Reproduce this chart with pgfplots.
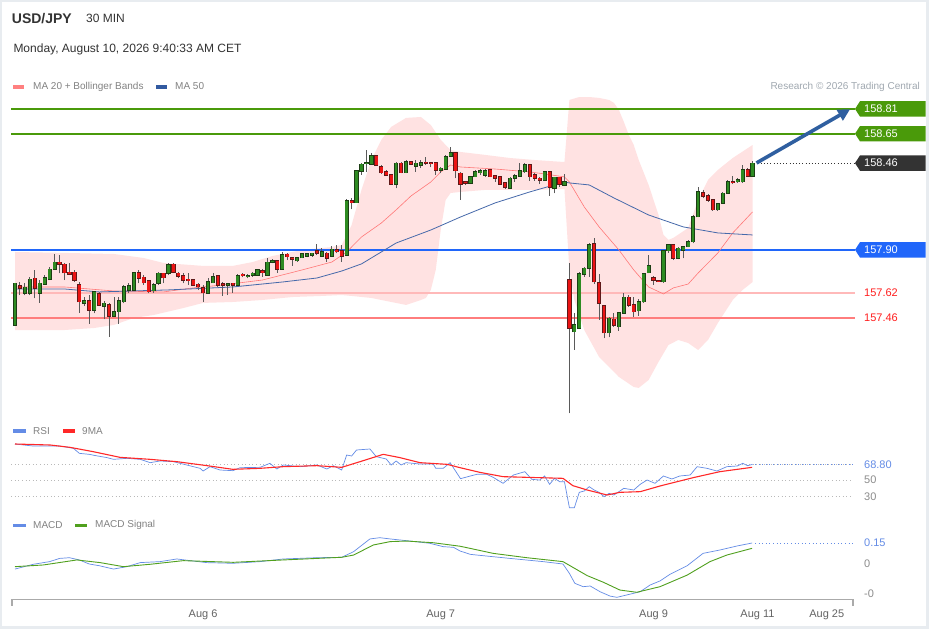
\documentclass[border=0pt]{standalone}
\usepackage{pgfplots}
\pgfplotsset{compat=1.18}
\usepackage{pgfplotstable}
\usetikzlibrary{arrows.meta}
\usepackage{fontspec}
\setmainfont{Liberation Sans}

\definecolor{framegray}{RGB}{232,236,240}
\definecolor{bandpink}{RGB}{255,226,226}
\definecolor{maline}{RGB}{255,120,120}
\definecolor{mafifty}{RGB}{70,105,170}
\definecolor{upfill}{RGB}{46,139,34}
\definecolor{upedge}{RGB}{28,62,20}
\definecolor{dnfill}{RGB}{235,20,20}
\definecolor{dnedge}{RGB}{95,25,25}
\definecolor{wick}{RGB}{90,90,90}
\definecolor{levgreen}{RGB}{74,154,10}
\definecolor{supportblue}{RGB}{32,102,250}
\definecolor{supportpink}{RGB}{255,185,185}
\definecolor{supportred}{RGB}{255,125,125}
\definecolor{levredtext}{RGB}{255,30,30}
\definecolor{darkbox}{RGB}{51,51,51}
\definecolor{arrowblue}{RGB}{47,95,160}
\definecolor{rsiblue}{RGB}{100,140,230}
\definecolor{mared}{RGB}{255,40,40}
\definecolor{siggreen}{RGB}{80,160,30}
\definecolor{dotgray}{RGB}{185,185,185}
\definecolor{axisgray}{RGB}{170,170,170}
\definecolor{ticktext}{RGB}{100,100,100}
\definecolor{sidetext}{RGB}{140,140,140}
\definecolor{legtext}{RGB}{130,130,130}
\definecolor{titletext}{RGB}{51,51,51}
\definecolor{swpink}{RGB}{255,128,128}
\definecolor{swblue}{RGB}{50,90,160}
\definecolor{credit}{RGB}{160,168,176}

\pgfplotstableread{
i o h l c
0 157.414 157.688 157.410 157.684
1 157.666 157.694 157.608 157.651
2 157.619 157.684 157.606 157.658
3 157.619 157.727 157.608 157.709
4 157.716 157.770 157.587 157.651
5 157.619 157.705 157.559 157.684
6 157.677 157.737 157.673 157.720
7 157.709 157.791 157.705 157.774
8 157.774 157.873 157.770 157.819
9 157.819 157.867 157.748 157.806
10 157.806 157.813 157.705 157.752
11 157.755 157.813 157.737 157.744
12 157.755 157.770 157.694 157.705
13 157.673 157.694 157.494 157.565
14 157.554 157.598 157.537 157.569
15 157.572 157.608 157.421 157.511
16 157.511 157.636 157.490 157.630
17 157.615 157.630 157.537 157.544
18 157.537 157.569 157.451 157.554
19 157.544 157.559 157.339 157.473
20 157.473 157.598 157.468 157.501
21 157.501 157.598 157.421 157.569
22 157.565 157.673 157.554 157.662
23 157.640 157.684 157.619 157.666
24 157.640 157.759 157.636 157.752
25 157.752 157.770 157.684 157.716
26 157.722 157.737 157.673 157.688
27 157.701 157.705 157.619 157.630
28 157.636 157.684 157.623 157.673
29 157.684 157.759 157.673 157.748
30 157.748 157.752 157.684 157.720
31 157.748 157.813 157.737 157.802
32 157.806 157.813 157.748 157.755
33 157.748 157.759 157.716 157.731
34 157.733 157.748 157.684 157.705
35 157.709 157.752 157.673 157.701
36 157.705 157.709 157.666 157.673
37 157.677 157.684 157.640 157.662
38 157.655 157.673 157.565 157.623
39 157.619 157.716 157.615 157.694
40 157.688 157.752 157.684 157.727
41 157.731 157.737 157.662 157.673
42 157.679 157.694 157.602 157.673
43 157.673 157.684 157.608 157.679
44 157.684 157.688 157.623 157.673
45 157.673 157.744 157.666 157.733
46 157.742 157.748 157.722 157.733
47 157.727 157.742 157.716 157.731
48 157.737 157.759 157.727 157.748
49 157.737 157.774 157.731 157.770
50 157.765 157.774 157.727 157.752
51 157.737 157.845 157.731 157.819
52 157.819 157.839 157.813 157.830
53 157.828 157.834 157.752 157.774
54 157.774 157.888 157.770 157.867
55 157.871 157.882 157.834 157.856
56 157.849 157.856 157.796 157.839
57 157.830 157.856 157.824 157.849
58 157.849 157.877 157.845 157.873
59 157.860 157.877 157.852 157.873
60 157.867 157.882 157.856 157.877
61 157.892 157.938 157.867 157.877
62 157.860 157.910 157.856 157.888
63 157.877 157.888 157.824 157.845
64 157.860 157.925 157.856 157.903
65 157.899 157.931 157.877 157.888
66 157.895 157.931 157.824 157.860
67 157.867 158.226 157.860 158.218
68 158.218 158.233 158.162 158.205
69 158.205 158.416 158.201 158.409
70 158.409 158.459 158.384 158.452
71 158.457 158.545 158.405 158.463
72 158.455 158.528 158.448 158.506
73 158.506 158.513 158.442 158.448
74 158.437 158.448 158.390 158.399
75 158.405 158.416 158.377 158.384
76 158.384 158.390 158.319 158.325
77 158.325 158.470 158.297 158.459
78 158.459 158.470 158.394 158.399
79 158.399 158.480 158.394 158.470
80 158.470 158.476 158.448 158.455
81 158.442 158.480 158.405 158.459
82 158.448 158.480 158.427 158.463
83 158.465 158.502 158.448 158.459
84 158.463 158.470 158.433 158.459
85 158.463 158.470 158.384 158.416
86 158.416 158.437 158.394 158.427
87 158.420 158.513 158.416 158.502
88 158.506 158.562 158.502 158.528
89 158.528 158.534 158.362 158.412
90 158.394 158.405 158.222 158.325
91 158.340 158.347 158.319 158.330
92 158.330 158.377 158.325 158.373
93 158.373 158.416 158.369 158.405
94 158.399 158.420 158.384 158.412
95 158.384 158.420 158.373 158.409
96 158.416 158.420 158.369 158.373
97 158.377 158.384 158.340 158.362
98 158.373 158.377 158.319 158.325
99 158.334 158.340 158.293 158.304
100 158.297 158.369 158.293 158.362
101 158.362 158.390 158.340 158.377
102 158.377 158.463 158.373 158.412
103 158.405 158.463 158.399 158.448
104 158.448 158.455 158.347 158.373
105 158.384 158.394 158.347 158.362
106 158.362 158.373 158.325 158.351
107 158.351 158.412 158.347 158.405
108 158.405 158.412 158.248 158.304
109 158.297 158.373 158.265 158.369
110 158.369 158.373 158.308 158.325
111 158.319 158.390 158.312 158.340
112 157.705 157.813 156.844 157.393
113 157.372 157.490 157.253 157.415
114 157.393 157.759 157.387 157.744
115 157.744 157.791 157.727 157.781
116 157.781 157.942 157.727 157.931
117 157.938 157.974 157.679 157.694
118 157.688 157.744 157.447 157.555
119 157.537 157.544 157.328 157.365
120 157.365 157.469 157.335 157.458
121 157.451 157.494 157.404 157.415
122 157.404 157.501 157.378 157.494
123 157.490 157.623 157.486 157.593
124 157.593 157.608 157.533 157.544
125 157.544 157.598 157.469 157.501
126 157.507 157.580 157.473 157.565
127 157.565 157.753 157.559 157.744
128 157.753 157.867 157.748 157.796
129 157.720 157.731 157.673 157.705
130 157.701 157.705 157.692 157.696
131 157.694 157.899 157.688 157.895
132 157.895 157.938 157.882 157.931
133 157.931 157.938 157.834 157.845
134 157.845 157.916 157.839 157.910
135 157.899 157.925 157.845 157.921
136 157.921 157.964 157.916 157.953
137 157.953 158.125 157.942 158.114
138 158.114 158.308 158.110 158.276
139 158.269 158.287 158.233 158.248
140 158.248 158.261 158.211 158.222
141 158.222 158.226 158.153 158.158
142 158.158 158.205 158.153 158.196
143 158.201 158.276 158.196 158.265
144 158.265 158.351 158.261 158.340
145 158.340 158.377 158.325 158.334
146 158.340 158.362 158.334 158.351
147 158.340 158.448 158.334 158.416
148 158.416 158.427 158.369 158.377
149 158.377 158.476 158.373 158.459
}\candles

\pgfplotstableread{
i v
0 157.660
10 157.660
20 157.634
30 157.628
36 157.654
42 157.673
50 157.705
58 157.770
64 157.821
67 157.886
70 157.983
74 158.073
77 158.158
80 158.248
84 158.338
86 158.403
88 158.448
90 158.435
97 158.422
104 158.403
107 158.390
111 158.371
112 158.338
115 158.177
118 158.048
122 157.899
125 157.770
128 157.660
131 157.615
133 157.654
136 157.679
138 157.750
142 157.880
145 158.009
149 158.145
}\maTwenty

\pgfplotstableread{
i v
0 157.647
10 157.647
17 157.628
31 157.641
44 157.660
54 157.692
61 157.718
66 157.763
70 157.809
77 157.944
84 158.028
90 158.112
97 158.203
104 158.274
111 158.338
112 158.332
116 158.319
121 158.235
128 158.125
135 158.048
142 158.009
149 157.996
}\maFifty

% Bollinger band outline: upper band left to right, then lower band right to left
\pgfplotstableread{
i v
0 157.886
10 157.880
20 157.873
26 157.847
30 157.815
38 157.796
44 157.796
48 157.821
52 157.860
58 157.899
64 157.918
66 157.931
68 158.060
70 158.287
72 158.480
74 158.610
76 158.694
79 158.752
82 158.758
84 158.706
86 158.610
88 158.545
90 158.532
95 158.513
100 158.493
105 158.480
111 158.467
112 158.868
114 158.887
116 158.887
118 158.881
120 158.868
121 158.849
122 158.803
123 158.726
124 158.642
125 158.577
126 158.480
128 158.319
130 158.125
131 157.996
132 157.964
133 157.977
136 158.041
138 158.222
140 158.351
142 158.416
145 158.493
149 158.577
149 157.692
147 157.641
145 157.576
142 157.428
140 157.318
138 157.253
136 157.298
134 157.318
132 157.285
130 157.176
128 157.059
126 157.008
125 157.014
122 157.079
118 157.208
115 157.382
113 157.576
112 157.770
111 158.293
105 158.287
100 158.287
95 158.287
90 158.274
88 158.267
87 158.222
86 158.028
85 157.770
84 157.641
83 157.589
82 157.576
79 157.544
76 157.563
72 157.589
68 157.602
66 157.608
62 157.602
56 157.595
50 157.576
44 157.563
38 157.557
34 157.524
28 157.479
24 157.460
20 157.415
16 157.395
10 157.382
0 157.382
}\band

\pgfplotstableread{
i v
0 93.2
3.6 90.8
9 90.8
11.8 88
13 82
15 80.8
16.5 79
18.5 77
19.9 74.8
22.6 76
25.3 74.8
27.3 70.8
29.3 72.8
32 72
34.7 68
37.4 64
38 60.8
39.4 66
41.4 62
44 61.2
45.5 64.8
49.5 65.2
51.5 70
52.9 63.2
54.2 68
57.6 66
61 68
63 63.2
64.3 67.2
66 62
67 80
68 78.8
69 86
71.7 87.2
73 78
75 75.2
76 68
77 72.8
78 68
79 70.8
81.8 69.2
84.5 69.2
85 64
86.5 64
87.9 70.8
90 51.6
92 54.8
93.3 56.8
95.3 56.8
96.6 53.2
98.6 46
100.7 56
103 60
104.4 50.8
106 50
107 54.8
108 44.8
109 52
110 48
111 48
112 16.8
113 16.8
114 35.2
115 36.8
116 42
117 38
118 35.2
119 30
120 34
121 32
123 40
125 38
126.3 44.8
127.7 50
129.3 46
131 54.8
132.7 51.2
134.3 54.8
136.4 56
137.8 66
139.8 64
141.8 60.8
143.8 66
145.9 66.8
147 70
148 67.2
149 68.8
}\rsi

\pgfplotstableread{
i v
0 93.2
7.1 92
11.1 89.2
15.8 84
21.2 77.2
27.3 74.8
32.7 72
38.8 67.2
44 62.8
49.5 64
54.2 66
61 67.2
66 65.2
69.7 72
74.4 80.8
77.8 76.8
81.8 70.8
87.3 68.8
89.9 64.8
91.9 62
93.9 59.2
98.6 54
103.4 53.2
110.7 52
112.7 43.2
115.6 38
119.6 32
122.2 35.2
126.3 36
130.3 42.8
137 52.8
142.4 60
148.9 65.2
}\rsima

\pgfplotstableread{
i v
0 -0.036
3.7 -0.002
7 0.017
9 0.040
11 0.045
13 0.029
15 0.000
17 -0.012
19.9 -0.036
22.6 -0.019
25.3 0.010
29.3 0.017
32.7 0.036
35.4 0.024
38.7 0.010
44 0.005
49.5 0.017
54.2 0.036
61 0.045
66 0.048
68.4 0.088
69.7 0.124
71.7 0.179
73.7 0.188
75.8 0.179
79.8 0.164
83.8 0.148
86.5 0.124
88.6 0.119
89.9 0.093
92 0.069
93.3 0.064
100 0.040
106.7 0.017
110.7 0.000
112 -0.067
113.1 -0.138
114.8 -0.162
116.2 -0.157
118.2 -0.198
120.2 -0.229
121.6 -0.238
123.6 -0.221
126.3 -0.198
128.3 -0.150
130.3 -0.121
132.3 -0.074
135.8 -0.012
139 0.076
142.4 0.100
145.9 0.129
148.9 0.150
}\macd

\pgfplotstableread{
i v
0 -0.019
5.7 -0.007
12.5 0.029
17.2 0.010
21.9 -0.019
27.3 -0.002
34 0.024
44.1 0.012
54.2 0.029
66 0.048
68.4 0.064
72.4 0.136
75.8 0.160
79.1 0.164
84.5 0.152
89.9 0.127
91.9 0.112
96.6 0.076
103.4 0.045
110.7 0.017
115.6 -0.083
118.9 -0.131
122.2 -0.186
125.6 -0.202
130.3 -0.162
135.8 -0.079
140.4 0.017
143.8 0.064
148.9 0.112
}\macdsig

\newcommand{\lvfont}{\fontsize{11}{13}\selectfont}
\newcommand{\lgfont}{\fontsize{10}{12}\selectfont}
\newcommand{\levbox}[3]{%
  \fill[#1] (axis cs:169.697,#2) -- ++(5pt,7.7pt) -- ++(65.7pt,0pt) -- ++(0pt,-15.4pt) -- ++(-65.7pt,0pt) -- cycle;
  \node[anchor=west, inner sep=0pt, text=white, font=\lvfont, xshift=9pt] at (axis cs:169.697,#2) {#3};}

\pgfplotsset{
  panel/.style={anchor=north west, scale only axis, width=844pt,
    xmin=-0.8081, xmax=169.697, clip=false,
    axis line style={draw=none}, xtick=\empty, ytick=\empty},
  candle/.style={draw=none, mark=none, forget plot,
    error bars/.cd, y dir=plus, y explicit, error mark=none},
}

\begin{document}
\begin{tikzpicture}
\fill[framegray] (0pt,0pt) rectangle (929pt,-629pt);
\fill[white] (1.5pt,-1.5pt) rectangle (926pt,-626pt);

% titles and legends
\node[anchor=base west, inner sep=0pt, text=titletext, font=\fontsize{14}{16}\selectfont\bfseries] at (11.7pt,-23.8pt) {USD/JPY};
\node[anchor=base west, inner sep=0pt, text=titletext, font=\fontsize{12}{14}\selectfont] at (86pt,-22.8pt) {30 MIN};
\node[anchor=base west, inner sep=0pt, text=titletext, font=\fontsize{12}{14}\selectfont] at (13.3pt,-52.8pt) {Monday, August 10, 2026 9:40:33 AM CET};
\fill[swpink] (13pt,-84.5pt) rectangle (24pt,-88.5pt);
\node[anchor=west, inner sep=0pt, text=legtext, font=\lgfont] at (33pt,-86.5pt) {MA 20 + Bollinger Bands};
\fill[swblue] (156pt,-84.5pt) rectangle (167pt,-88.5pt);
\node[anchor=west, inner sep=0pt, text=legtext, font=\lgfont] at (175pt,-86.5pt) {MA 50};
\node[anchor=east, inner sep=0pt, text=credit, font=\lgfont] at (920pt,-86.5pt) {Research © 2026 Trading Central};

\fill[rsiblue] (13pt,-429pt) rectangle (26pt,-432.5pt);
\node[anchor=west, inner sep=0pt, text=legtext, font=\lgfont] at (33pt,-430.7pt) {RSI};
\fill[mared] (63pt,-429pt) rectangle (75pt,-432.5pt);
\node[anchor=west, inner sep=0pt, text=legtext, font=\lgfont] at (82pt,-430.7pt) {9MA};
\fill[rsiblue] (13pt,-523.5pt) rectangle (26pt,-527pt);
\node[anchor=west, inner sep=0pt, text=legtext, font=\lgfont] at (33pt,-525.2pt) {MACD};
\fill[siggreen] (75pt,-523.5pt) rectangle (87pt,-527pt);
\node[anchor=west, inner sep=0pt, text=legtext, font=\lgfont] at (95pt,-525.2pt) {MACD Signal};

% ---------------- main price panel
\begin{axis}[panel, at={(11pt,-95pt)}, height=320pt,
  ymin=156.833, ymax=158.900]
\addplot[fill=bandpink, draw=none, forget plot] table[x=i,y=v] \band;

\draw[draw=levgreen, line width=2pt] (axis cs:-0.75,158.81) -- (axis cs:169.697,158.81);
\draw[draw=levgreen, line width=2pt] (axis cs:-0.75,158.65) -- (axis cs:169.697,158.65);
\draw[draw=supportblue, line width=1.4pt] (axis cs:-0.75,157.90) -- (axis cs:169.697,157.90);
\draw[draw=supportpink, line width=2pt] (axis cs:-0.75,157.62) -- (axis cs:169.697,157.62);
\draw[draw=supportred, line width=1.2pt] (axis cs:-0.75,157.46) -- (axis cs:169.697,157.46);
\draw[draw=darkbox, line width=0.9pt, dash pattern=on 1pt off 2.2pt] (axis cs:150,158.46) -- (axis cs:169.697,158.46);

\addplot[color=maline, line width=0.6pt] table[x=i,y=v] \maTwenty;
\addplot[color=mafifty, line width=0.8pt] table[x=i,y=v] \maFifty;

% wicks
\addplot[candle, error bar style={line width=1pt, draw=wick}]
  table[x=i, y=l, y error expr=\thisrow{h}-\thisrow{l}] \candles;
% up bodies
\addplot[candle, error bar style={line width=4.2pt, draw=upedge},
  /pgfplots/restrict expr to domain={\thisrow{c}-\thisrow{o}}{0:10}]
  table[x=i, y expr=\thisrow{o}-0.004, y error expr=\thisrow{c}-\thisrow{o}+0.008] \candles;
\addplot[candle, error bar style={line width=2.6pt, draw=upfill},
  /pgfplots/restrict expr to domain={\thisrow{c}-\thisrow{o}}{0:10}]
  table[x=i, y=o, y error expr=\thisrow{c}-\thisrow{o}] \candles;
% down bodies
\addplot[candle, error bar style={line width=4.2pt, draw=dnedge},
  /pgfplots/restrict expr to domain={\thisrow{o}-\thisrow{c}}{0.0001:10}]
  table[x=i, y expr=\thisrow{c}-0.004, y error expr=\thisrow{o}-\thisrow{c}+0.008] \candles;
\addplot[candle, error bar style={line width=2.6pt, draw=dnfill},
  /pgfplots/restrict expr to domain={\thisrow{o}-\thisrow{c}}{0.0001:10}]
  table[x=i, y=c, y error expr=\thisrow{o}-\thisrow{c}] \candles;

\draw[arrowblue, line width=3.6pt, -{Triangle[length=12pt,width=12pt]}] (axis cs:149.8,158.461) -- (axis cs:168.7,158.808);

\levbox{levgreen}{158.81}{158.81}
\levbox{levgreen}{158.65}{158.65}
\levbox{darkbox}{158.46}{158.46}
\levbox{supportblue}{157.90}{157.90}
\node[anchor=west, inner sep=0pt, text=levredtext, font=\lvfont, xshift=9pt] at (axis cs:169.697,157.62) {157.62};
\node[anchor=west, inner sep=0pt, text=levredtext, font=\lvfont, xshift=9pt] at (axis cs:169.697,157.46) {157.46};
\end{axis}

% ---------------- RSI panel
\begin{axis}[panel, at={(11pt,-438.33pt)}, height=83.33pt,
  ymin=0, ymax=100]
\draw[draw=dotgray, line width=0.8pt, dash pattern=on 1pt off 2.6pt] (axis cs:-0.75,68.8) -- (axis cs:169.3,68.8);
\draw[draw=dotgray, line width=0.8pt, dash pattern=on 1pt off 2.6pt] (axis cs:-0.75,50) -- (axis cs:169.3,50);
\draw[draw=dotgray, line width=0.8pt, dash pattern=on 1pt off 2.6pt] (axis cs:-0.75,30) -- (axis cs:169.3,30);
\draw[draw=rsiblue, line width=0.9pt, dash pattern=on 1pt off 2.6pt] (axis cs:149.5,68.8) -- (axis cs:169.3,68.8);
\addplot[color=rsiblue, line width=0.7pt] table[x=i,y=v] \rsi;
\addplot[color=mared, line width=1.1pt] table[x=i,y=v] \rsima;
\node[anchor=west, inner sep=0pt, text=rsiblue, font=\lvfont, xshift=9pt] at (axis cs:169.697,68.8) {68.80};
\node[anchor=west, inner sep=0pt, text=sidetext, font=\lvfont, xshift=9pt] at (axis cs:169.697,50) {50};
\node[anchor=west, inner sep=0pt, text=sidetext, font=\lvfont, xshift=9pt] at (axis cs:169.697,30) {30};
\end{axis}

% ---------------- MACD panel
\begin{axis}[panel, at={(11pt,-530pt)}, height=69.5pt,
  ymin=-0.25357, ymax=0.24286]
\draw[draw=rsiblue, line width=0.9pt, dash pattern=on 1pt off 2.6pt] (axis cs:149.5,0.15) -- (axis cs:169.3,0.15);
\addplot[color=rsiblue, line width=0.7pt] table[x=i,y=v] \macd;
\addplot[color=siggreen, line width=0.9pt] table[x=i,y=v] \macdsig;
\draw[axisgray, line width=1.6pt] (axis cs:-0.8081,-0.25357) -- (axis cs:169.5,-0.25357);
\draw[axisgray, line width=1.6pt] (axis cs:-0.65,-0.25357) -- ++(0pt,-6pt);
\draw[axisgray, line width=1.6pt] (axis cs:169.35,-0.25357) -- ++(0pt,-6pt);
\node[anchor=base, inner sep=0pt, text=ticktext, font=\lvfont] at (axis cs:38,-0.25357) [yshift=-17.5pt] {Aug 6};
\node[anchor=base, inner sep=0pt, text=ticktext, font=\lvfont] at (axis cs:86,-0.25357) [yshift=-17.5pt] {Aug 7};
\node[anchor=base, inner sep=0pt, text=ticktext, font=\lvfont] at (axis cs:129,-0.25357) [yshift=-17.5pt] {Aug 9};
\node[anchor=base, inner sep=0pt, text=ticktext, font=\lvfont] at (axis cs:150,-0.25357) [yshift=-17.5pt] {Aug 11};
\node[anchor=base, inner sep=0pt, text=ticktext, font=\lvfont] at (axis cs:164,-0.25357) [yshift=-17.5pt] {Aug 25};
\node[anchor=west, inner sep=0pt, text=rsiblue, font=\lvfont, xshift=9pt] at (axis cs:169.697,0.15) {0.15};
\node[anchor=west, inner sep=0pt, text=sidetext, font=\lvfont, xshift=9pt] at (axis cs:169.697,0) {0};
\node[anchor=west, inner sep=0pt, text=sidetext, font=\lvfont, xshift=9pt] at (axis cs:169.697,-0.209) {-0};
\end{axis}
\pgfresetboundingbox
\path[use as bounding box] (0pt,0pt) rectangle (929pt,-629pt);
\end{tikzpicture}
\end{document}
